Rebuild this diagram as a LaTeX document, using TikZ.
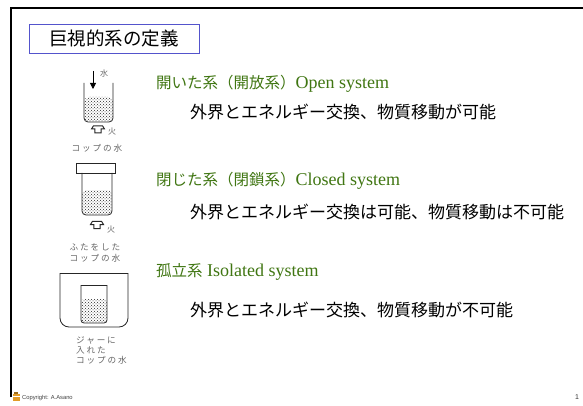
\documentclass[tikz,border=0pt]{standalone}
\usepackage{fontspec}
\setmainfont{Liberation Serif}
\newfontfamily\jp{Noto Sans CJK JP}
\newfontfamily\jpsp{Noto Sans CJK JP}[LetterSpace=22]
\newfontfamily\sansfnt{Liberation Sans}
\usetikzlibrary{patterns,arrows.meta}
\definecolor{headgreen}{RGB}{64,118,18}
\definecolor{titleblue}{RGB}{84,84,204}
\definecolor{iconorange}{RGB}{226,156,40}

\begin{document}
\begin{tikzpicture}[x=1pt,y=-1pt,
  vessel/.style={draw=black!85,line width=0.8pt},
  water/.style={pattern=crosshatch dots,pattern color=black!85},
  heading/.style={anchor=west,inner sep=0pt,text=headgreen},
  body/.style={anchor=west,inner sep=0pt,font=\fontsize{17}{20}\jp},
  caption/.style={inner sep=0pt,text=black!60,font=\fontsize{8.6}{10}\jpsp},
  tiny/.style={inner sep=0pt,text=black!60,font=\fontsize{8}{9}\jp},
  flame/.pic={\draw[black!85,line width=1pt,line join=miter]
      (-6.5,0) -- (-4.5,-3.2) -- (4.5,-3.2) -- (6.5,0) -- (3.2,0) -- (3.2,4)
      -- (-3.2,4) -- (-3.2,0) -- cycle;}]
\useasboundingbox (0,0) rectangle (583,406);
\fill[white] (0,0) rectangle (583,406);

% slide frame
\draw[line width=2pt] (11,397) -- (11,8) -- (583,8);

% title box
\node[draw=titleblue,line width=0.9pt,minimum width=170pt,minimum height=29pt,
      inner sep=0pt,font=\fontsize{18.5}{20}\jp] (title) at (114,38.5) {巨視的系の定義};

% headings and descriptions
\node[heading] (h1) at (156,84)
  {{\fontsize{15.5}{18}\jp 開いた系（開放系）}{\fontsize{18}{20}\selectfont Open system}};
\node[body] (b1) at (190,112) {外界とエネルギー交換、物質移動が可能};

\node[heading] (h2) at (156,181)
  {{\fontsize{15.5}{18}\jp 閉じた系（閉鎖系）}{\fontsize{18}{20}\selectfont Closed system}};
\node[body] (b2) at (190,212) {外界とエネルギー交換は可能、物質移動は不可能};

\node[heading] (h3) at (156,272)
  {{\fontsize{15.5}{18}\jp 孤立系}{\fontsize{18}{20}\selectfont\ Isolated system}};
\node[body] (b3) at (190,310) {外界とエネルギー交換、物質移動が不可能};

% open system: cup of water with inflow and heating
\fill[water,rounded corners=4pt] (84.4,97) -- (84.4,121.6) -- (112.6,121.6) -- (112.6,97) -- cycle;
\draw[vessel,rounded corners=4pt] (84,83) -- (84,122) -- (113,122) -- (113,83);
\coordinate (tap) at (93,71);
\coordinate (inflow) at (93,89);
\draw[line width=0.8pt,-{Triangle[length=6pt,width=6pt]}] (tap) -- (inflow);
\node[tiny] (wlabel) at (104,73) {水};
\pic at (98,129) {flame};
\node[tiny] (f1) at (112,132) {火};
\node[caption] (c1) at (97,148) {コップの水};

% closed system: covered cup
\fill[water,rounded corners=4pt] (82.4,190) -- (82.4,214.6) -- (111.6,214.6) -- (111.6,190) -- cycle;
\draw[vessel,rounded corners=4pt] (82,173) -- (82,215) -- (112,215) -- (112,173);
\draw[vessel] (76,163) rectangle (115,173);
\pic at (97,224.5) {flame};
\node[tiny] (f2) at (111,230) {火};
\node[caption] (c2a) at (95,247) {ふたをした};
\node[caption] (c2b) at (95,258) {コップの水};

% isolated system: cup inside a jar
\draw[vessel,rounded corners=9pt] (60,273) -- (60,327) -- (128,327) -- (128,273);
\draw[vessel,line cap=rect] (60,273) -- (128,273);
\fill[water,rounded corners=3pt] (81.4,299) -- (81.4,322.6) -- (106.6,322.6) -- (106.6,299) -- cycle;
\draw[vessel,rounded corners=3pt] (81,285) -- (81,323) -- (107,323) -- (107,285);
\draw[vessel,line cap=rect] (81,285) -- (107,285);
\node[caption,anchor=west] (c3a) at (76,340) {ジャーに};
\node[caption,anchor=west] (c3b) at (76,350) {入れた};
\node[caption,anchor=west] (c3c) at (76,360) {コップの水};

% footer
\fill[iconorange] (13,393.5) rectangle (20,401);
\fill[iconorange!70!black] (14,391.5) rectangle (18,393.5);
\draw[white,line width=0.4pt] (13,396) -- (20,396);
\node[anchor=west,inner sep=0pt,text=black!75,font=\fontsize{5.8}{7}\sansfnt] (copy) at (22,398) {Copyright: A.Asano};
\node[inner sep=0pt,text=black!80,font=\fontsize{7}{8}\sansfnt] (pageno) at (577,397) {1};
\end{tikzpicture}
\end{document}
